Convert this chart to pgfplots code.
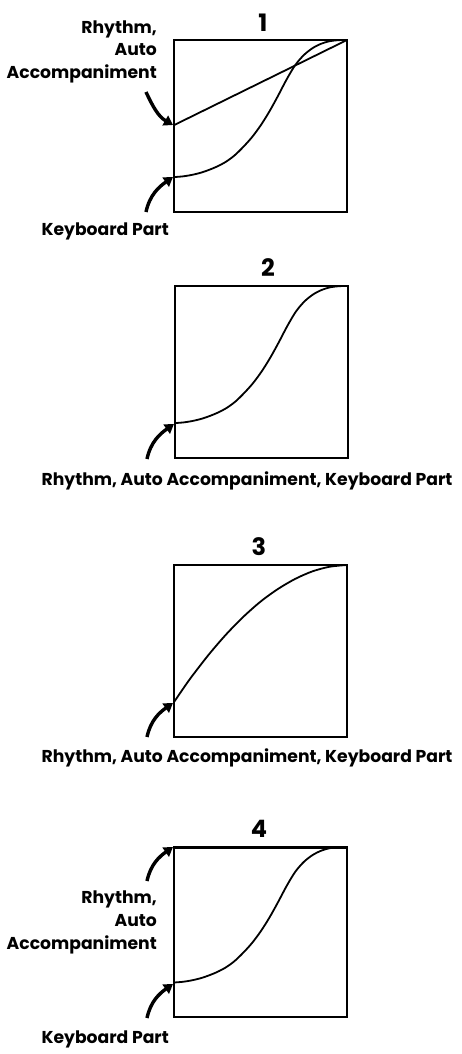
\documentclass[border=0pt]{standalone}
\usepackage{fontspec}
\setmainfont{Poppins}
\usepackage{pgfplots}
\pgfplotsset{compat=1.18}
\usetikzlibrary{arrows.meta}

% S-shaped curve, fractions of the box
\pgfplotstableread{
x y
0     0.203
0.05  0.207
0.10  0.215
0.15  0.227
0.20  0.244
0.25  0.265
0.30  0.292
0.35  0.329
0.40  0.378
0.45  0.434
0.50  0.502
0.55  0.582
0.60  0.673
0.65  0.769
0.70  0.853
0.75  0.912
0.80  0.952
0.85  0.978
0.90  0.993
0.95  0.999
1     1
}\scurve
% concave curve of panel 3
\pgfplotstableread{
x y
0     0.203
0.05  0.277
0.10  0.348
0.20  0.478
0.30  0.595
0.40  0.698
0.50  0.787
0.60  0.860
0.70  0.919
0.80  0.963
0.90  0.990
1     1
}\arc

\pgfplotsset{panel/.style={
    scale only axis, width=173pt, height=172pt,
    anchor=south west,
    xmin=0, xmax=1, ymin=0, ymax=1,
    ticks=none,
    axis line style={line width=1.6pt},
    clip=false,
}}
\tikzset{
  lbl/.style={font=\bfseries\fontsize{17.2}{20}\selectfont, inner sep=0pt},
  ttl/.style={font=\bfseries\fontsize{24}{26}\selectfont, inner sep=0pt},
  arr/.style={line width=3.4pt, -{Triangle[length=9pt,width=11pt]}},
  crv/.style={black, line width=1.8pt, no marks, smooth},
}

\begin{document}
\begin{tikzpicture}
\useasboundingbox (0,0) rectangle (462pt,-1054pt);

% ---- 1
\begin{axis}[panel, at={(174pt,-212pt)}]
  \addplot [crv] coordinates {(0,0.505) (1,1)};
  \addplot [crv] table {\scurve};
\end{axis}
\node[ttl] at (263pt,-23pt) {1};
\node[lbl, anchor=base east] at (157pt,-34pt) {Rhythm,};
\node[lbl, anchor=base east] at (157pt,-56pt) {Auto};
\node[lbl, anchor=base east] at (157pt,-79pt) {Accompaniment};
\node[lbl, anchor=base east] at (169pt,-235pt) {Keyboard Part};
\draw[arr] (146pt,-92pt) to[out=-65,in=150] (173pt,-125pt);
\draw[arr] (146pt,-212pt) to[out=78,in=215] (173pt,-177pt);

% ---- 2
\begin{axis}[panel, at={(175pt,-458pt)}]
  \addplot [crv] table {\scurve};
\end{axis}
\node[ttl] at (268pt,-268pt) {2};
\node[lbl, anchor=base] at (247pt,-485pt) {Rhythm, Auto Accompaniment, Keyboard Part};
\draw[arr] (147pt,-459pt) to[out=78,in=215] (174pt,-424pt);

% ---- 3
\begin{axis}[panel, at={(174pt,-737pt)}]
  \addplot [crv] table {\arc};
\end{axis}
\node[ttl] at (259pt,-547pt) {3};
\node[lbl, anchor=base] at (247pt,-762pt) {Rhythm, Auto Accompaniment, Keyboard Part};
\draw[arr] (147pt,-737pt) to[out=78,in=215] (173pt,-703pt);

% ---- 4
\begin{axis}[panel, at={(174pt,-1017pt)}, height=170pt]
  \addplot [black, line width=3pt, no marks] coordinates {(0,1) (1,1)};
  \addplot [crv] table {\scurve};
\end{axis}
\node[ttl] at (259pt,-829pt) {4};
\node[lbl, anchor=base east] at (157pt,-903pt) {Rhythm,};
\node[lbl, anchor=base east] at (157pt,-926pt) {Auto};
\node[lbl, anchor=base east] at (157pt,-949pt) {Accompaniment};
\node[lbl, anchor=base east] at (169pt,-1043pt) {Keyboard Part};
\draw[arr] (147pt,-881pt) to[out=78,in=215] (173pt,-847pt);
\draw[arr] (147pt,-1018pt) to[out=78,in=215] (173pt,-984pt);
\end{tikzpicture}
\end{document}
